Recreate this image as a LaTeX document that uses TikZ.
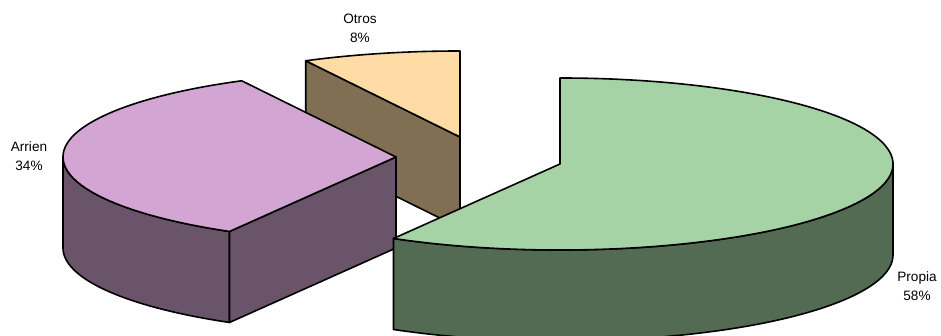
\documentclass[tikz,border=0pt]{standalone}
\usepackage{fontspec}
\setmainfont{Liberation Sans}
\usepackage{tikz}
\usetikzlibrary{calc}
\definecolor[named]{myColorPropiaA}{RGB}{166,211,166}
\definecolor[named]{myColorPropiaB}{RGB}{83,106,83}
\definecolor[named]{myColorArrienA}{RGB}{211,165,211}
\definecolor[named]{myColorArrienB}{RGB}{105,84,105}
\definecolor[named]{myColorOtrosA}{RGB}{255,219,165}
\definecolor[named]{myColorOtrosB}{RGB}{128,111,83}

\begin{document}
\begin{tikzpicture}
[%
    x=1pt,
    y=1pt,
    face/.style={
      draw=black,
      line width=1.6pt,
      line join=round
    },
    tag/.style={
      align=center,
      inner sep=0pt,
      font=\fontsize{13.6}{19}\selectfont
    }
  ]
  \useasboundingbox (0,0) rectangle (941,336);
  \clip (0,0) rectangle (941,336);

  %Otros
  \coordinate (O) at (460,199);
  \coordinate (O1) at ($(O)+(117.6:333 and 86)$);
  \draw[face,fill=myColorOtrosB] (O1) -- (O) -- ++(0,-91) -- ($(O1)+(0,-91)$) -- cycle;
  \draw[face,fill=myColorOtrosA] (O) -- (O1) arc[start angle=117.6, end angle=90, x radius=333, y radius=86] -- cycle;

  %Arrien
  \coordinate (A) at (396,179);
  \coordinate (A1) at ($(A)+(240:333 and 86)$);
  \coordinate (A2) at ($(A)+(180:333 and 86)$);
  \draw[face,fill=myColorArrienB] (A2) -- ++(0,-91) arc[start angle=180, end angle=240, x radius=333, y radius=86] -- (A1) arc[start angle=240, end angle=180, x radius=333, y radius=86] -- cycle;
  \draw[face,fill=myColorArrienB] (A1) -- (A) -- ++(0,-91) -- ($(A1)+(0,-91)$) -- cycle;
  \draw[face,fill=myColorArrienA] (A) -- (A1) arc[start angle=240, end angle=117.6, x radius=333, y radius=86] -- cycle;

  %Propia
  \coordinate (P) at (560,172);
  \coordinate (P1) at ($(P)+(-120:333 and 86)$);
  \coordinate (P2) at ($(P)+(0:333 and 86)$);
  \draw[face,fill=myColorPropiaB] (P1) -- ++(0,-91) arc[start angle=-120, end angle=0, x radius=333, y radius=86] -- (P2) arc[start angle=0, end angle=-120, x radius=333, y radius=86] -- cycle;
  \draw[face,fill=myColorPropiaA] (P) -- (P1) arc[start angle=-120, end angle=90, x radius=333, y radius=86] -- cycle;

  %Labels
  \node[tag] (otros) at (360,308) {Otros\\8\%};
  \node[tag] (arrien) at (29,180) {Arrien\\34\%};
  \node[tag] (propia) at (917,50) {Propia\\58\%};
\end{tikzpicture}
\end{document}
